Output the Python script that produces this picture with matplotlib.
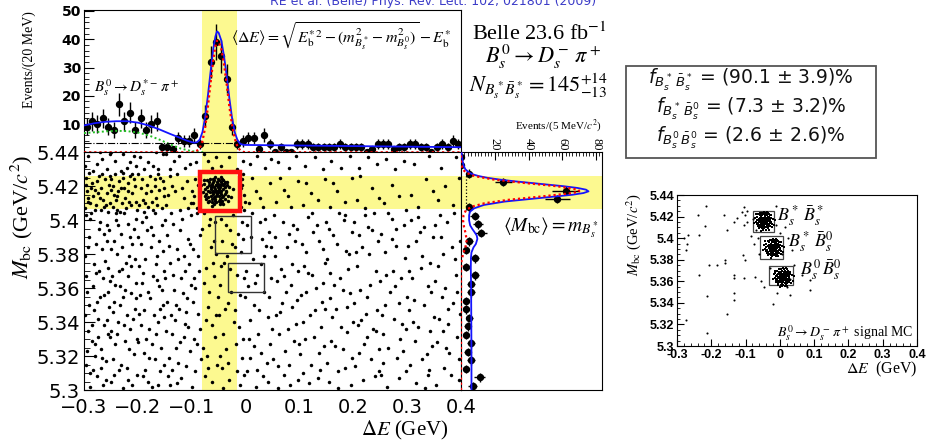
import numpy as np
import matplotlib
matplotlib.use("Agg")
import matplotlib.pyplot as plt
from matplotlib.patches import Rectangle
from matplotlib.ticker import MultipleLocator

plt.rcParams["font.family"] = ["Liberation Serif", "DejaVu Serif"]
plt.rcParams["mathtext.fontset"] = "stix"

W, H = 926, 440

# %%
# Delta E distribution (M_bc signal band), 10 MeV bins from -0.3 GeV
de_lo, de_bin = -0.3, 0.01
de_counts = [9, 11, 10, 12, 9, 8, 17, 11, 14, 8,
             12, 8, 10, 11, 2, 2, 1, 5, 4, 4,
             6, 3, 13, 32, 39, 34, 26, 9, 3, 4,
             5, 5, 1, 6, 3, 0, 2, 0, 0, 3,
             3, 3, 2, 2, 2, 2, 2, 3, 2, 2,
             2, 2, 0, 1, 3, 3, 3, 1, 2, 2,
             3, 3, 2, 2, 0, 2, 3, 2, 4, 3]

# fit components (GeV, events/bin)
fit_de = [-0.300, -0.280, -0.260, -0.240, -0.220, -0.200, -0.180, -0.160, -0.140, -0.120,
          -0.110, -0.100, -0.095, -0.090, -0.085, -0.080, -0.075, -0.070, -0.065, -0.060,
          -0.056, -0.053, -0.050, -0.045, -0.040, -0.035, -0.030, -0.025, -0.020, -0.015,
          -0.010, -0.005, 0.000, 0.100, 0.200, 0.300, 0.400]
fit_total = [9.5, 10.3, 10.8, 11.0, 11.0, 10.5, 9.5, 8.1, 6.5, 5.0,
             4.2, 3.6, 3.4, 3.6, 4.5, 7.2, 12.5, 20.0, 28.5, 36.5,
             41.0, 42.8, 42.3, 39.5, 34.0, 27.0, 19.0, 12.0, 7.0, 4.3,
             3.0, 2.7, 2.6, 2.4, 2.2, 2.0, 1.8]
sig_de = [-0.300, -0.100, -0.095, -0.090, -0.085, -0.080, -0.075, -0.070, -0.065, -0.060,
          -0.056, -0.053, -0.050, -0.045, -0.040, -0.035, -0.030, -0.025, -0.020, -0.015,
          -0.010, -0.005, 0.000, 0.400]
sig_vals = [0, 0, 0.2, 0.6, 1.5, 4.0, 8.8, 16.0, 24.5, 32.5,
            37.5, 39.5, 39.2, 36.5, 31.0, 24.0, 16.0, 9.5, 4.8, 2.0,
            0.7, 0.2, 0, 0]
refl_de = [-0.300, -0.280, -0.260, -0.240, -0.220, -0.200, -0.180, -0.160, -0.140, -0.120,
           -0.100, -0.085, -0.075]
refl_vals = [6.8, 7.1, 7.4, 7.6, 7.5, 7.0, 6.0, 4.5, 2.8, 1.3, 0.4, 0.05, 0]
comb_de = [-0.300, -0.015]
comb_vals = [3.2, 3.2]

# M_bc distribution (Delta E signal band), 5 MeV bins from 5.30 GeV
mbc_lo, mbc_bin = 5.30, 0.005
mbc_counts = [7, 11, 3, 6, 4, 6, 3, 4, 5, 3,
              3, 6, 6, 8, 3, 8, 3, 5, 12, 10,
              8, 5, 57, 62, 25, 5, 0, 0]
# fit curves, M_bc in MeV above 5.30 GeV
pfit_mbc = [0, 20, 40, 60, 72, 78, 81, 84, 86, 89, 91, 93, 95, 97, 100, 103, 105, 107, 109, 111,
            113, 115, 116, 117, 118, 119, 120, 121, 122, 123, 124, 125, 126, 127, 128, 130, 132,
            135, 138, 140]
pfit_total = [6.2, 6.2, 6.1, 6.0, 5.8, 5.9, 6.2, 7.4, 8.8, 9.7, 9.3, 8.0, 6.6, 5.4, 4.8, 4.8, 5.3,
              7.8, 13.6, 26.0, 46.0, 66.0, 72.5, 75.5, 74.0, 69.0, 61.0, 51.0, 41.0, 31.0, 22.5,
              15.5, 10.5, 7.0, 4.8, 2.6, 1.6, 0.9, 0.5, 0.3]
psig_mbc = [0, 70, 76, 80, 84, 88, 92, 96, 100, 103, 106, 108, 110, 112, 114, 116, 117, 118,
            120, 122, 124, 126, 128, 130, 133, 136, 140]
psig_vals = [0, 0, 0.3, 1.2, 2.6, 3.3, 2.8, 1.8, 1.2, 1.5, 3.0, 6.5, 14.0, 28.0, 48.0, 66.0,
             70.0, 69.5, 57.0, 37.0, 19.0, 8.0, 3.0, 1.0, 0.2, 0, 0]
pcomb_mbc = [106, 128]
pcomb_vals = [2.7, 2.7]

# selection windows and boxes (GeV)
de_window = (-0.0815, -0.0165)
mbc_window = (5.4065, 5.426)
red_box = (-0.0855, -0.0103, 5.4053, 5.4282)
side_boxes = [(-0.057, 0.0095, 5.3808, 5.4024), (-0.032, 0.0347, 5.3578, 5.3749)]
mc_boxes = [(-0.079, -0.016, 5.4059, 5.4251), (-0.0567, 0.0102, 5.3802, 5.4019),
            (-0.032, 0.0375, 5.3569, 5.3746)]

# scatter data: (Delta E in MeV, M_bc - 5300 in MeV)
bkg_pts = [
    # -0.30 .. -0.25
    (-281, 47), (-263, 92), (-297, 15), (-255, 33), (-272, 70), (-289, 101), (-259, 6), (-294, 58),
    (-268, 24), (-277, 86), (-252, 64), (-286, 29), (-265, 3), (-299, 79), (-274, 42), (-258, 97),
    (-283, 12), (-270, 55), (-291, 90), (-256, 72), (-279, 20), (-262, 38), (-296, 67), (-287, 104),
    (-253, 49), (-275, 8), (-266, 83), (-292, 35), (-260, 17), (-284, 61), (-271, 99), (-298, 44),
    (-257, 88), (-280, 27), (-264, 66), (-289, 10), (-254, 94), (-276, 52), (-295, 23), (-261, 76),
    (-285, 38), (-269, 13), (-251, 31), (-293, 84), (-278, 69), (-263, 56), (-288, 2), (-273, 95),
    (-258, 41), (-297, 103), (-282, 74), (-267, 19), (-255, 58), (-290, 50), (-274, 31),
    (-287, 119), (-262, 108), (-296, 125), (-271, 113), (-254, 121), (-280, 106), (-266, 127),
    (-292, 111), (-258, 116), (-275, 123), (-299, 107), (-283, 114), (-252, 110), (-269, 119),
    (-290, 128), (-261, 124), (-277, 109), (-295, 117), (-256, 105), (-273, 126), (-285, 122),
    (-264, 112), (-251, 126), (-279, 118), (-293, 113), (-259, 109), (-268, 106), (-288, 110),
    (-274, 116), (-297, 121),
    (-276, 133), (-293, 138), (-258, 130), (-284, 129), (-266, 136), (-251, 139), (-299, 132), (-270, 140),
    # -0.25 .. -0.20
    (-229, 71), (-246, 18), (-208, 95), (-237, 40), (-218, 6), (-250, 83), (-213, 57), (-241, 100),
    (-224, 29), (-203, 63), (-235, 12), (-216, 79), (-244, 52), (-207, 21), (-231, 92), (-220, 44),
    (-248, 67), (-211, 3), (-226, 104), (-239, 33), (-205, 48), (-233, 61), (-217, 24), (-245, 88),
    (-222, 75), (-202, 9), (-236, 97), (-214, 36), (-249, 5), (-227, 55), (-210, 86), (-242, 27),
    (-219, 67), (-204, 101), (-232, 15), (-247, 46), (-212, 73), (-225, 38), (-238, 80), (-201, 30),
    (-228, 1), (-243, 62), (-215, 90), (-234, 50), (-206, 77), (-221, 13), (-250, 35), (-230, 84),
    (-209, 42), (-240, 104), (-223, 59), (-244, 9), (-218, 98), (-235, 70), (-203, 54),
    (-238, 114), (-215, 126), (-247, 108), (-226, 119), (-204, 111), (-233, 105), (-219, 122),
    (-243, 127), (-210, 116), (-230, 110), (-250, 118), (-222, 107), (-207, 124), (-241, 112),
    (-218, 117), (-235, 123), (-201, 106), (-227, 128), (-245, 115), (-213, 109), (-231, 119),
    (-249, 124), (-223, 113), (-205, 120), (-239, 106), (-216, 111), (-228, 125), (-246, 120),
    (-211, 127), (-236, 117),
    (-243, 135), (-221, 131), (-208, 138), (-232, 129), (-249, 140), (-215, 134), (-227, 139), (-203, 132),
    # -0.20 .. -0.15
    (-177, 54), (-158, 11), (-194, 86), (-166, 33), (-185, 102), (-152, 70), (-189, 22), (-171, 91),
    (-198, 45), (-160, 61), (-181, 5), (-155, 97), (-193, 63), (-169, 18), (-186, 77), (-163, 40),
    (-199, 28), (-175, 84), (-154, 50), (-191, 8), (-172, 67), (-157, 25), (-183, 94), (-196, 56),
    (-165, 79), (-179, 36), (-151, 15), (-188, 47), (-168, 104), (-161, 88), (-197, 73), (-174, 2),
    (-156, 59), (-184, 30), (-192, 99), (-170, 44), (-153, 82), (-180, 19), (-164, 65), (-195, 38),
    (-176, 96), (-159, 48), (-187, 12), (-167, 74), (-182, 58), (-162, 3), (-199, 90), (-173, 27),
    (-152, 43), (-190, 69),
    (-173, 111), (-192, 124), (-156, 107), (-184, 116), (-163, 127), (-198, 109), (-169, 120),
    (-151, 114), (-188, 105), (-177, 126), (-160, 118), (-195, 119), (-181, 108), (-166, 113),
    (-154, 123), (-190, 112), (-171, 106), (-158, 125), (-199, 127), (-183, 121), (-164, 109),
    (-175, 117), (-152, 119), (-186, 110), (-168, 124),
    (-181, 134), (-163, 130), (-196, 137), (-154, 139), (-172, 132), (-188, 130), (-167, 140),
    # -0.15 .. -0.10
    (-126, 77), (-143, 19), (-108, 54), (-134, 98), (-115, 31), (-149, 66), (-120, 7), (-139, 44),
    (-103, 86), (-130, 25), (-146, 91), (-112, 70), (-124, 48), (-141, 3), (-106, 37), (-133, 59),
    (-118, 101), (-148, 35), (-110, 14), (-128, 83), (-136, 12), (-102, 62), (-121, 94), (-145, 52),
    (-114, 79), (-131, 41), (-104, 23), (-140, 75), (-117, 57), (-127, 4), (-149, 100), (-107, 89),
    (-135, 68), (-122, 28), (-142, 85), (-111, 46), (-125, 16), (-137, 33), (-101, 103), (-119, 66),
    (-144, 8), (-129, 50), (-105, 74), (-138, 104), (-113, 39),
    (-131, 117), (-147, 109), (-108, 123), (-122, 106), (-140, 126), (-115, 113), (-136, 120),
    (-102, 110), (-127, 127), (-144, 115), (-118, 119), (-106, 107),
    (-133, 135), (-112, 131), (-147, 139), (-124, 138), (-104, 133), (-140, 130),
    # -0.10 .. -0.05
    (-77, 63), (-94, 11), (-59, 88), (-84, 36), (-66, 101), (-98, 52), (-71, 20), (-55, 44),
    (-89, 79), (-62, 5), (-81, 95), (-96, 30), (-68, 58), (-53, 15), (-87, 70), (-74, 41),
    (-91, 104), (-58, 67), (-79, 25), (-64, 84), (-99, 2), (-70, 49), (-85, 91), (-56, 31),
    (-93, 60), (-76, 8), (-61, 75), (-88, 45), (-67, 97), (-52, 55), (-82, 18), (-97, 83),
    (-73, 72), (-57, 99), (-90, 27), (-63, 38), (-78, 104), (-95, 66), (-54, 80), (-69, 13),
    (-97, 110), (-93, 124), (-99, 117), (-90, 107), (-88, 121), (-95, 114),
    (-92, 134), (-78, 139), (-63, 131), (-54, 137), (-70, 135),
    # -0.05 .. 0.00
    (-27, 58), (-44, 13), (-9, 81), (-36, 97), (-18, 27), (-49, 44), (-3, 66), (-31, 6),
    (-14, 92), (-40, 75), (-22, 40), (-6, 19), (-46, 101), (-33, 51), (-11, 3), (-25, 86),
    (-42, 33), (-1, 55), (-29, 71), (-16, 11), (-48, 62), (-37, 24), (-7, 99), (-20, 47),
    (-43, 88), (-12, 37), (-34, 79), (-2, 9), (-24, 103), (-47, 20), (-15, 68), (-39, 48),
    (-5, 30), (-28, 94), (-45, 73), (-10, 56), (-32, 16), (-19, 84), (-41, 1), (-4, 89),
    (-8, 108), (-3, 115), (-6, 124), (-1, 111), (-9, 119), (-4, 127), (-2, 106), (-7, 121),
    (-45, 132), (-30, 137), (-16, 130), (-4, 135),
    # 0.00 .. 0.05
    (3, 97), (41, 5), (18, 63), (29, 22), (47, 84), (9, 41), (36, 101), (22, 12), (14, 77), (44, 55),
    (6, 30), (31, 89), (39, 16), (25, 47), (1, 70), (49, 36), (12, 104), (34, 58), (20, 2), (43, 93),
    (8, 19), (28, 74), (46, 27), (16, 50), (38, 85), (4, 61), (23, 33), (33, 8), (11, 90), (48, 66),
    (26, 99), (41, 43), (15, 26), (35, 79), (2, 11), (21, 68),
    (6, 110), (19, 117), (33, 108), (46, 122), (12, 125), (27, 113),
    (8, 133), (22, 138), (37, 131), (48, 136),
    # 0.05 .. 0.10
    (57, 44), (92, 88), (71, 9), (84, 62), (52, 103), (99, 27), (65, 71), (78, 36), (60, 14), (95, 53),
    (88, 97), (54, 79), (73, 23), (81, 92), (67, 51), (97, 6), (62, 33), (86, 74), (75, 58), (51, 18),
    (93, 39), (69, 99), (83, 3), (58, 64), (90, 29), (77, 84), (64, 46), (98, 70), (55, 90), (80, 15),
    (72, 67), (87, 49), (61, 1), (96, 95),
    (57, 111), (71, 118), (84, 108), (97, 123), (63, 125), (78, 114),
    (60, 134), (80, 131), (94, 138),
    # 0.10 .. 0.15
    (112, 58), (139, 12), (104, 86), (127, 31), (148, 75), (118, 4), (133, 97), (107, 40), (142, 52),
    (123, 68), (101, 21), (137, 88), (115, 102), (129, 47), (146, 26), (109, 73), (121, 15), (144, 63),
    (134, 7), (103, 56), (126, 93), (140, 37), (113, 81), (149, 99), (119, 44), (106, 10), (131, 60),
    (143, 83), (110, 30), (124, 104), (136, 22), (116, 69), (147, 48),
    (107, 109), (121, 116), (135, 112), (148, 124), (113, 122),
    (110, 132), (128, 137), (144, 130),
    # 0.15 .. 0.20
    (163, 91), (188, 34), (155, 5), (176, 66), (197, 19), (168, 48), (152, 77), (183, 100), (193, 57),
    (159, 29), (172, 11), (186, 82), (165, 62), (199, 40), (154, 95), (180, 24), (191, 71), (161, 43),
    (174, 104), (195, 3), (157, 54), (184, 13), (169, 86), (151, 16), (189, 49), (177, 37), (198, 93),
    (166, 26), (181, 59), (156, 69), (192, 80), (171, 1), (185, 103),
    (156, 108), (170, 117), (184, 111), (197, 125), (162, 122),
    (159, 135), (177, 131), (193, 138),
    # 0.20 .. 0.25
    (207, 73), (233, 18), (246, 88), (215, 41), (202, 99), (226, 55), (240, 8), (219, 27), (249, 64),
    (211, 91), (237, 36), (204, 14), (229, 80), (244, 47), (213, 59), (222, 103), (247, 24), (208, 38),
    (235, 94), (218, 6), (242, 70), (225, 31), (201, 51), (231, 62), (216, 84), (248, 11), (210, 22),
    (238, 104), (223, 45), (205, 81), (243, 35), (228, 96),
    (207, 112), (221, 107), (235, 119), (248, 113), (213, 126),
    (210, 131), (228, 137), (244, 133),
    # 0.25 .. 0.30
    (258, 50), (284, 7), (296, 78), (265, 25), (252, 92), (277, 61), (290, 39), (271, 101), (256, 16),
    (299, 55), (280, 85), (262, 2), (287, 30), (274, 70), (253, 44), (294, 97), (268, 58), (282, 19),
    (259, 81), (297, 11), (276, 42), (264, 104), (289, 66), (255, 33), (272, 89), (292, 23), (261, 68),
    (285, 51), (279, 95), (251, 9), (298, 36),
    (257, 110), (271, 121), (285, 114), (298, 106),
    (260, 136), (278, 130), (294, 135),
    # 0.30 .. 0.35
    (309, 66), (336, 21), (348, 90), (317, 4), (303, 47), (328, 79), (342, 35), (321, 102), (306, 15),
    (345, 58), (331, 96), (314, 29), (339, 9), (325, 72), (301, 85), (349, 43), (312, 53), (334, 1),
    (320, 37), (343, 75), (307, 100), (327, 18), (338, 61), (316, 88), (347, 26), (304, 70), (332, 50),
    (323, 93), (341, 12), (310, 40),
    (307, 115), (321, 108), (335, 124), (348, 117),
    (312, 133), (340, 138),
    # 0.35 .. 0.40
    (356, 28), (383, 84), (397, 6), (364, 55), (351, 97), (375, 39), (391, 68), (369, 13), (387, 104),
    (358, 73), (399, 45), (378, 22), (362, 90), (393, 31), (371, 60), (354, 3), (385, 51), (366, 80),
    (396, 18), (374, 99), (359, 42), (389, 77), (352, 64), (381, 9), (367, 35), (398, 88), (376, 48),
    (361, 103), (392, 58), (373, 25),
    (357, 112), (371, 120), (385, 109), (397, 125),
    (363, 131), (390, 137),
]

# signal cluster: centre and offsets (MeV)
sig_center = (-54, 117.5)
cluster_offsets = [
    (0, 0), (-5, 2), (6, -1), (-11, -3), (3, 4), (12, 1), (-2, -5), (8, 5), (-8, 3), (15, -2),
    (-15, 0), (1, -2), (-4, 6), (10, -4), (-13, 5), (5, -6), (-7, -1), (19, 3), (-19, -2), (2, 7),
    (-1, 3), (7, 2), (-9, -5), (13, 6), (-16, -4), (4, -3), (-3, 1), (11, -6), (-12, 7), (17, 0),
    (-21, 1), (0, -7), (9, 0), (-6, -2), (14, 4), (-10, 1), (3, -1), (-14, -6), (6, 3), (-2, 8),
    (21, -3), (-23, 4), (8, -2), (-5, -4), (1, 5), (16, -5), (-18, 6), (12, 3), (-8, -7), (5, 1),
    (-1, -3), (24, 2), (-25, -1), (7, -5), (-12, -1), (2, 2), (-6, 5), (18, -1), (-17, 2), (10, 7),
    (-4, -8), (13, -3), (-9, 4), (0, 3), (27, -4), (-28, 3), (4, 6), (-3, -6), (15, 5), (-20, -5),
    (6, -8), (-11, 2), (9, -7), (-7, 7), (20, 5), (-22, -3), (3, 0), (-14, 3), (11, 4), (-1, -1),
    (30, 1), (-30, -2), (16, 2), (-24, 6), (8, 8), (-16, -7), (22, -6), (-6, 0), (12, -8), (-9, -9),
]

# signal MC (inset): cluster centres and scattered events (MeV)
mc_centers = [(-45, 116), (-18, 91), (10, 64)]
mc_scatter = [
    (-215, 130), (-240, 121), (-218, 111), (-269, 103), (-270, 95), (-273, 89), (-237, 103),
    (-164, 121), (-155, 108), (-133, 115), (-125, 119), (-111, 124), (-106, 129), (-101, 121),
    (-96, 115), (-108, 84), (-101, 80), (-159, 80), (-159, 77), (-184, 75), (-208, 75), (-237, 66),
    (-135, 66), (-135, 63), (-106, 63), (-72, 64), (-213, 46), (-135, 49), (-135, 43), (-155, 30),
    (-273, 24), (-213, 12), (-21, 39), (-9, 49), (30, 47), (64, 66), (88, 61), (88, 52), (35, 89),
    (-106, 112), (-95, 125), (-60, 85), (-65, 100), (-75, 95), (0, 105), (15, 110), (25, 100),
    (-30, 72), (-55, 60), (40, 75), (20, 55), (-10, 130), (-85, 102), (-280, 100), (-78, 118),
    (-12, 112), (-70, 108), (5, 85), (30, 62), (-45, 55),
]

# axis ticks
main_xticks = [-0.3, -0.2, -0.1, 0.0, 0.1, 0.2, 0.3, 0.4]
main_xlabels = ["\u22120.3", "\u22120.2", "\u22120.1", "0", "0.1", "0.2", "0.3", "0.4"]
mc_xlabels = ["-0.3", "-0.2", "-0.1", "0", "0.1", "0.2", "0.3", "0.4"]
mbc_ticks = [5.30, 5.32, 5.34, 5.36, 5.38, 5.40, 5.42, 5.44]
mbc_labels = ["5.3", "5.32", "5.34", "5.36", "5.38", "5.4", "5.42", "5.44"]
top_yticks = [10, 20, 30, 40, 50]
proj_ticks = [20, 40, 60, 80]


# %%
def rect(x0, y0, x1, y1):
    # pixel box (from top-left) -> figure fraction
    return [x0 / W, 1 - y1 / H, (x1 - x0) / W, (y1 - y0) / H]


def ftext(x, y, s, **kw):
    return fig.text(x / W, 1 - y / H, s, **kw)


yellow = "#fcf990"
blue = "#1414ff"
dotted = (0, (1, 1.3))

fig = plt.figure(figsize=(W / 100, H / 100), dpi=100)
ax_top = fig.add_axes(rect(84, 10, 461, 152.3))
ax_main = fig.add_axes(rect(84, 152.3, 461, 390))
ax_proj = fig.add_axes(rect(461, 152.3, 602, 390))
ax_mc = fig.add_axes(rect(677, 195, 917, 346))

# ---- Delta E projection (top)
counts = np.array(de_counts, dtype=float)
de_x = de_lo + de_bin * (np.arange(len(counts)) + 0.5)
ax_top.axvspan(*de_window, color=yellow, lw=0, zorder=0)
ax_top.errorbar(de_x, counts, yerr=np.sqrt(counts), xerr=de_bin / 2, fmt="o", color="k",
                ms=4.3, elinewidth=1.0, capsize=0, zorder=2)
ax_top.plot(refl_de, refl_vals, color="#22c022", ls=dotted, lw=1.4, zorder=3)
ax_top.plot(comb_de, comb_vals, color="k", ls="-.", lw=0.8, zorder=3)
ax_top.plot(fit_de, fit_total, color=blue, lw=1.3, zorder=4)
ax_top.plot(sig_de, sig_vals, color="red", ls=dotted, lw=1.6, zorder=4)
ax_top.set_xlim(-0.3, 0.4)
ax_top.set_ylim(0, 50.35)
ax_top.set_xticks([])
ax_top.set_yticks(top_yticks)
ax_top.set_yticklabels([str(t) for t in top_yticks], family="DejaVu Sans",
                       fontweight="bold", fontsize=10)
ax_top.yaxis.set_minor_locator(MultipleLocator(2))
ax_top.tick_params(axis="y", which="both", direction="in", pad=2)
ax_top.tick_params(axis="y", which="major", length=7)
ax_top.tick_params(axis="y", which="minor", length=3.5)

ftext(29, 60, "Events/(20 MeV)", rotation=90, ha="center", va="center", fontsize=10)
ftext(94, 88, r"$B_s^0 \rightarrow D_s^{*-}\,\pi^+$", ha="left", va="center", fontsize=11)
ftext(231, 36, r"$\langle\Delta E\rangle = \sqrt{E_{\mathrm{b}}^{*\,2}-(m_{B_s^*}^2-m_{B_s^0}^2)}-E_{\mathrm{b}}^{*}$",
      ha="left", va="center", fontsize=11.5)

# ---- scatter (main)
bkg = np.array(bkg_pts, dtype=float)
clu = np.array(cluster_offsets, dtype=float)
ax_main.axvspan(*de_window, color=yellow, lw=0, zorder=0)
ax_main.axhspan(*mbc_window, color=yellow, lw=0, zorder=0)
ax_main.plot(bkg[:, 0] / 1000, 5.3 + bkg[:, 1] / 1000, "o", color="k", ms=2.5, mew=0, zorder=2)
ax_main.plot((sig_center[0] + clu[:, 0]) / 1000, 5.3 + (sig_center[1] + clu[:, 1]) / 1000,
             "o", color="k", ms=2.5, mew=0, zorder=2)
x0, x1, y0, y1 = red_box
ax_main.add_patch(Rectangle((x0, y0), x1 - x0, y1 - y0, fill=False, ec="#ff1010", lw=3.2, zorder=3))
for x0, x1, y0, y1 in side_boxes:
    ax_main.add_patch(Rectangle((x0, y0), x1 - x0, y1 - y0, fill=False, ec="#333333", lw=1.0, zorder=3))
ax_main.set_xlim(-0.3, 0.4)
ax_main.set_ylim(5.3, 5.44)
ax_main.set_xticks(main_xticks)
ax_main.set_xticklabels(main_xlabels, family="DejaVu Sans", fontsize=14)
ax_main.set_yticks(mbc_ticks)
ax_main.set_yticklabels(mbc_labels, family="DejaVu Sans", fontsize=14)
ax_main.yaxis.set_minor_locator(MultipleLocator(0.005))
ax_main.tick_params(axis="x", which="both", length=0, pad=6)
ax_main.tick_params(axis="y", which="both", direction="in", pad=3)
ax_main.tick_params(axis="y", which="major", length=8)
ax_main.tick_params(axis="y", which="minor", length=4)

ftext(22, 217, r"$M_{\mathrm{bc}}$ (GeV/$c^2$)", rotation=90, ha="center", va="center", fontsize=16)
ftext(405, 430, r"$\Delta E$ (GeV)", ha="center", va="center", fontsize=15)

# ---- M_bc projection (right)
mcounts = np.array(mbc_counts, dtype=float)
mbc_y = mbc_lo + mbc_bin * (np.arange(len(mcounts)) + 0.5)
ax_proj.axhspan(*mbc_window, color=yellow, lw=0, zorder=0)
ax_proj.errorbar(mcounts, mbc_y, xerr=np.sqrt(mcounts), yerr=mbc_bin / 2, fmt="o", color="k",
                 ms=4.3, elinewidth=1.0, capsize=0, zorder=2)
ax_proj.plot(pcomb_vals, 5.3 + np.array(pcomb_mbc) / 1000, color="k", ls=":", lw=0.9, zorder=3)
ax_proj.plot(pfit_total, 5.3 + np.array(pfit_mbc) / 1000, color=blue, lw=1.3, zorder=4)
ax_proj.plot(psig_vals, 5.3 + np.array(psig_mbc) / 1000, color="red", ls=dotted, lw=1.6, zorder=4)
ax_proj.set_xlim(0, 83.5)
ax_proj.set_ylim(5.3, 5.44)
ax_proj.set_yticks([])
ax_proj.xaxis.tick_top()
ax_proj.set_xticks(proj_ticks)
ax_proj.set_xticklabels([str(t) for t in proj_ticks], rotation=-90, fontsize=9)
ax_proj.xaxis.set_minor_locator(MultipleLocator(2))
ax_proj.tick_params(axis="x", which="both", direction="in", top=True, bottom=False, pad=1.5)
ax_proj.tick_params(axis="x", which="major", length=6)
ax_proj.tick_params(axis="x", which="minor", length=3)

ftext(558, 126, r"Events/(5 MeV/$c^2$)", ha="center", va="center", fontsize=8)
ftext(551, 228, r"$\langle M_{\mathrm{bc}}\rangle = m_{B_s^*}$", ha="center", va="center", fontsize=14)

# ---- labels on the right
ftext(539, 34, r"Belle 23.6 fb$^{-1}$", ha="center", va="center", fontsize=16)
ftext(543, 57, r"$B_s^0 \rightarrow D_s^-\,\pi^+$", ha="center", va="center", fontsize=16)
ftext(539, 86, r"$N_{B_s^*\bar{B}_s^*} = 145^{+14}_{-13}$", ha="center", va="center", fontsize=16)

fig.add_artist(Rectangle((626 / W, 1 - 158 / H), 250 / W, 92 / H, transform=fig.transFigure,
                         fill=False, ec="#555555", lw=1.3))
fractions = [r"$f_{B_s^*\,\bar{B}_s^*}$ = (90.1 ± 3.9)%",
             r"$f_{B_s^*\,\bar{B}_s^0}$ = (7.3 ± 3.2)%",
             r"$f_{B_s^0\,\bar{B}_s^0}$ = (2.6 ± 2.6)%"]
for yy, s in zip([84, 113, 142], fractions):
    ftext(751, yy, s, ha="center", va="baseline", fontsize=13.5, family="DejaVu Sans",
          math_fontfamily="dejavusans", color="#111111")

ftext(270, 5, "RE et al. (Belle) Phys. Rev. Lett. 102, 021801 (2009)", ha="left", va="baseline",
      fontsize=9, family="DejaVu Sans", color="#3c3cc8")

# ---- signal MC inset
mcs = np.array(mc_scatter, dtype=float)
ax_mc.plot(mcs[:, 0] / 1000, 5.3 + mcs[:, 1] / 1000, "o", color="k", ms=1.5, mew=0)
for cx, cy in mc_centers:
    ax_mc.plot((cx + clu[:, 0]) / 1000, 5.3 + (cy + clu[:, 1]) / 1000, "s", color="k", ms=2.0, mew=0)
for x0, x1, y0, y1 in mc_boxes:
    ax_mc.add_patch(Rectangle((x0, y0), x1 - x0, y1 - y0, fill=False, ec="#444444", lw=0.9))
ax_mc.set_xlim(-0.3, 0.4)
ax_mc.set_ylim(5.3, 5.44)
ax_mc.set_xticks(main_xticks)
ax_mc.set_xticklabels(mc_xlabels, family="Liberation Sans", fontweight="bold", fontsize=9)
ax_mc.set_yticks(mbc_ticks)
ax_mc.set_yticklabels(mbc_labels, family="Liberation Sans", fontweight="bold", fontsize=9)
ax_mc.xaxis.set_minor_locator(MultipleLocator(0.02))
ax_mc.yaxis.set_minor_locator(MultipleLocator(0.005))
ax_mc.tick_params(which="both", direction="in", pad=2)
ax_mc.tick_params(which="major", length=5)
ax_mc.tick_params(which="minor", length=2.5)

ftext(634, 235, r"$M_{\mathrm{bc}}$ (GeV/$c^2$)", rotation=90, ha="center", va="center", fontsize=10.5)
ftext(917, 369, r"$\Delta E$  (GeV)", ha="right", va="center", fontsize=11.5)
ftext(777, 216, r"$B_s^*\,\bar{B}_s^*$", ha="left", va="center", fontsize=13)
ftext(788, 242, r"$B_s^*\,\bar{B}_s^0$", ha="left", va="center", fontsize=13)
ftext(800, 270, r"$B_s^0\,\bar{B}_s^0$", ha="left", va="center", fontsize=13)
ftext(913, 333, r"$B_s^0 \rightarrow D_s^-\,\pi^+$ signal MC", ha="right", va="center", fontsize=10)

fig.savefig("out.png", dpi=100)
